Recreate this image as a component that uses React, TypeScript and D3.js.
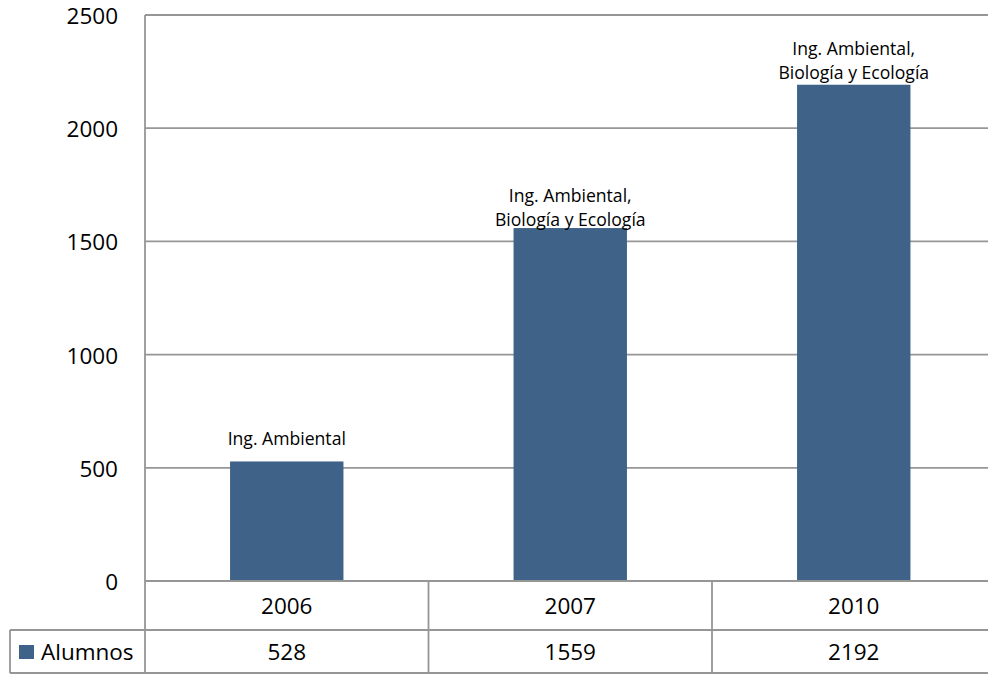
import React from "react";
import * as d3 from "d3";

const categories = ["2006", "2007", "2010"];
const values = [528, 1559, 2192];
const seriesName = "Alumnos";
const barLabels = [["Ing. Ambiental"], ["Ing. Ambiental,", "Biología y Ecología"], ["Ing. Ambiental,", "Biología y Ecología"]];
const yTicks = [0, 500, 1000, 1500, 2000, 2500];

const W = 988, H = 675;
const left = 145, top = 15, bottom = 581;
const step = 283.5;
const right = left + step * categories.length;
const row1 = 630, row2 = 673, tableLeft = 10;
const labelOffsets = [16, 2, 6];
const FONT = "'Open Sans', sans-serif";
const BAR = "#3F6388";
const GRID = "#969696";

export default function App() {
  const y = d3.scaleLinear().domain([0, 2500]).range([bottom, top]);
  const x = d3.scaleBand<string>().domain(categories).range([left, right]).paddingInner(0.6).paddingOuter(0.3);
  const col = d3.scaleBand<string>().domain(categories).range([left, right]).padding(0);

  return (
    <svg width={W} height={H} style={{ position: "absolute", left: 0, top: 0, background: "#fff" }}>
      {yTicks.map((t) => (
        <g key={t}>
          {t > 0 && <line x1={left} x2={right} y1={y(t)} y2={y(t)} stroke={GRID} strokeWidth={1.8} />}
          <text x={118} y={y(t)} dy="0.4em" textAnchor="end" fontFamily={FONT} fontSize={22.5} fill="#000">{t}</text>
        </g>
      ))}
      {categories.map((c, i) => (
        <rect key={c} x={x(c)} y={y(values[i])} width={x.bandwidth()} height={bottom - y(values[i])} fill={BAR} />
      ))}
      {categories.map((c, i) => {
        const cx = (x(c) as number) + x.bandwidth() / 2;
        const lines = barLabels[i];
        const base = y(values[i]) - labelOffsets[i];
        return (
          <g key={c}>
            {lines.map((l, j) => (
              <text key={j} x={cx} y={base - (lines.length - 1 - j) * 24} textAnchor="middle" fontFamily={FONT} fontSize={17.6} fill="#000">{l}</text>
            ))}
          </g>
        );
      })}
      {/* axis and table lines */}
      <line x1={left} x2={left} y1={top} y2={row2} stroke={GRID} strokeWidth={1.8} />
      <line x1={left} x2={right} y1={bottom} y2={bottom} stroke={GRID} strokeWidth={1.8} />
      <line x1={tableLeft} x2={right} y1={row1} y2={row1} stroke={GRID} strokeWidth={1.8} />
      <line x1={tableLeft} x2={right} y1={row2} y2={row2} stroke={GRID} strokeWidth={1.8} />
      <line x1={tableLeft} x2={tableLeft} y1={row1} y2={row2} stroke={GRID} strokeWidth={1.8} />
      {categories.slice(1).map((c) => (
        <line key={c} x1={col(c)} x2={col(c)} y1={bottom} y2={row2} stroke={GRID} strokeWidth={1.8} />
      ))}
      {categories.map((c, i) => {
        const cx = (col(c) as number) + col.bandwidth() / 2;
        return (
          <g key={c}>
            <text x={cx} y={(bottom + row1) / 2} dy="0.36em" textAnchor="middle" fontFamily={FONT} fontSize={22.5}>{c}</text>
            <text x={cx} y={(row1 + row2) / 2} dy="0.36em" textAnchor="middle" fontFamily={FONT} fontSize={22.5}>{values[i]}</text>
          </g>
        );
      })}
      <rect x={19} y={645} width={15} height={14} fill={BAR} />
      <text x={41} y={(row1 + row2) / 2} dy="0.36em" fontFamily={FONT} fontSize={22.5}>{seriesName}</text>
    </svg>
  );
}
